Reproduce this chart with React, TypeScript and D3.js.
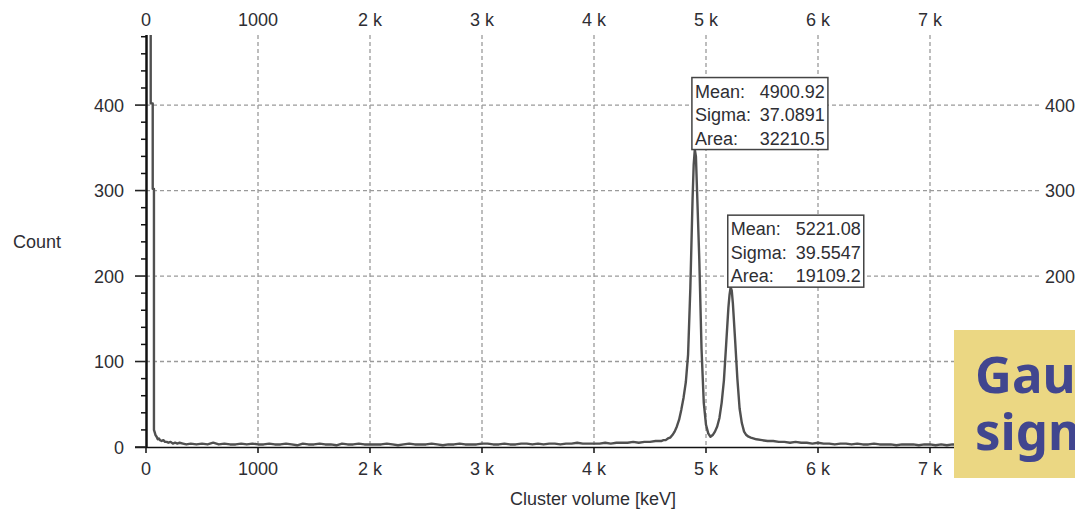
import { useEffect, useRef } from "react"
import { select, scaleLinear, line, max } from "d3"

const WIDTH = 1075
const HEIGHT = 515

// low-energy spike right above 0 and its quick decay: [keV, count]
const lowEnergy: [number, number][] = [
    [42, 600], [42, 402], [60, 402], [60, 302], [71, 302], [71, 20],
    [78, 17], [85, 14], [95, 12], [105, 9], [115, 10], [125, 8], [140, 7],
    [155, 8], [170, 6], [185, 6], [200, 5], [220, 6], [240, 4], [260, 5],
    [280, 4], [300, 5], [330, 4], [360, 3],
]

// flat background, one value every 50 keV from 400 keV up to 4400 keV
const plateauStart = 400
const plateauStep = 50
const plateauCounts = [
    4, 3, 4, 3, 5, 3, 4, 3, 3, 4, 3, 4, 3,
    3, 4, 3, 3, 4, 3, 2, 4, 3, 3, 4, 3, 3, 2, 4, 3, 3, 4, 3, 3,
    3, 3, 4, 3, 2, 3, 4, 3, 3, 3, 4, 3, 2, 3, 3, 4, 3, 3, 3, 4,
    4, 3, 3, 4, 3, 3, 4, 4, 3, 4, 3, 4, 4, 3, 4, 4, 5, 4, 4, 4,
    4, 5, 4, 5, 5, 5, 6, 5,
]

// the two peaks: [keV, count]
const peakRegion: [number, number][] = [
    [4450, 6], [4500, 6], [4550, 7], [4600, 7], [4620, 8], [4640, 8],
    [4660, 10], [4680, 11], [4700, 14], [4720, 18], [4740, 24], [4760, 32],
    [4780, 44], [4800, 58], [4820, 76], [4840, 108], [4860, 185], [4880, 290],
    [4890, 330], [4900, 348], [4910, 340], [4920, 300], [4940, 220], [4960, 115],
    [4980, 52], [5000, 26], [5020, 16], [5040, 12], [5060, 14], [5080, 18],
    [5100, 24], [5120, 34], [5140, 52], [5160, 78], [5180, 120], [5200, 163],
    [5210, 178], [5220, 187], [5230, 183], [5240, 168], [5260, 125], [5280, 80],
    [5300, 45], [5320, 28], [5340, 18], [5360, 14], [5380, 12], [5400, 11],
]

// slow tail after the peaks, one value every 50 keV from 5450 keV
const tailStart = 5450
const tailStep = 50
const tailCounts = [
    9, 8, 7, 7, 6, 6, 5, 6, 5, 5, 4, 5,
    4, 4, 3, 4, 4, 3, 4, 3, 3, 4,
    3, 3, 3, 2, 3, 3, 3, 2, 3, 3,
    2, 3, 2, 3, 3, 2, 2, 3, 2, 2,
    3, 2, 2, 2, 3, 2, 2, 2, 2, 2,
]

const xTicks = [0, 1000, 2000, 3000, 4000, 5000, 6000, 7000]
const xTickLabels = ["0", "1000", "2 k", "3 k", "4 k", "5 k", "6 k", "7 k"]
const yTicks = [0, 100, 200, 300, 400]
const yRightTicks = [200, 300, 400]
const yMinorTicks = [20, 40, 60, 80, 120, 140, 160, 180, 220, 240, 260, 280, 320, 340, 360, 380, 420, 440, 460, 480]

const fits = [
    { mean: 4900.92, sigma: "37.0891", area: "32210.5", meanText: "4900.92" },
    { mean: 5221.08, sigma: "39.5547", area: "19109.2", meanText: "5221.08" },
]

const noteLines = ["Gaussian", "sigma"]

const App = () => {
    const svgRef = useRef<SVGSVGElement>(null)

    useEffect(() => {
        const font = "Arial, 'Liberation Sans', sans-serif"
        const textColor = "#2e2e33"

        const histogram: [number, number][] = [
            ...lowEnergy,
            ...plateauCounts.map((c, i) => [plateauStart + i * plateauStep, c] as [number, number]),
            ...peakRegion,
            ...tailCounts.map((c, i) => [tailStart + i * tailStep, c] as [number, number]),
        ]

        const x = scaleLinear().domain([0, 8000]).range([146, 1042])
        const y = scaleLinear().domain([0, 482]).range([447, 35])

        const svgEl = select(svgRef.current)
        svgEl.selectAll("*").remove()

        svgEl.append("rect").attr("width", WIDTH).attr("height", HEIGHT).attr("fill", "#fff")

        svgEl.append("clipPath").attr("id", "plot-clip")
            .append("rect")
            .attr("x", x(0)).attr("y", y(482))
            .attr("width", x(8000) - x(0)).attr("height", y(0) - y(482))
        svgEl.append("clipPath").attr("id", "page-clip")
            .append("rect").attr("width", WIDTH).attr("height", HEIGHT)

        // grid
        svgEl.append("g").selectAll("line")
            .data(xTicks.slice(1))
            .enter().append("line")
            .attr("x1", d => x(d)).attr("x2", d => x(d))
            .attr("y1", y(482)).attr("y2", y(0))
            .attr("stroke", "#9a9a9a").attr("stroke-width", 1.3)
            .attr("stroke-dasharray", "4,3")
        svgEl.append("g").selectAll("line")
            .data(yTicks.slice(1))
            .enter().append("line")
            .attr("x1", x(0)).attr("x2", x(8000) - 2)
            .attr("y1", d => y(d)).attr("y2", d => y(d))
            .attr("stroke", "#9a9a9a").attr("stroke-width", 1.3)
            .attr("stroke-dasharray", "4,3")

        // histogram trace
        const trace = line<[number, number]>()
            .x(d => x(d[0]))
            .y(d => y(d[1]))
        svgEl.append("path")
            .attr("clip-path", "url(#plot-clip)")
            .attr("fill", "none")
            .attr("stroke", "#505050")
            .attr("stroke-width", 2.4)
            .attr("stroke-linejoin", "round")
            .attr("d", trace(histogram))

        // bottom axis
        svgEl.append("line")
            .attr("x1", x(0) - 11).attr("x2", x(8000))
            .attr("y1", y(0) + 0.5).attr("y2", y(0) + 0.5)
            .attr("stroke", "#111").attr("stroke-width", 1.5)
        svgEl.append("g").selectAll("line")
            .data(xTicks)
            .enter().append("line")
            .attr("x1", d => x(d)).attr("x2", d => x(d))
            .attr("y1", y(0)).attr("y2", y(0) + 6)
            .attr("stroke", "#111").attr("stroke-width", 1.5)

        // left axis
        svgEl.append("line")
            .attr("x1", x(0) + 0.5).attr("x2", x(0) + 0.5)
            .attr("y1", y(482)).attr("y2", y(0) + 1)
            .attr("stroke", "#111").attr("stroke-width", 2.5)
        svgEl.append("g").selectAll("line")
            .data(yMinorTicks)
            .enter().append("line")
            .attr("x1", x(0) - 5).attr("x2", x(0))
            .attr("y1", d => y(d)).attr("y2", d => y(d))
            .attr("stroke", "#111").attr("stroke-width", 1.5)
        svgEl.append("g").selectAll("line")
            .data(yTicks)
            .enter().append("line")
            .attr("x1", x(0) - 11).attr("x2", x(0))
            .attr("y1", d => y(d)).attr("y2", d => y(d))
            .attr("stroke", "#222").attr("stroke-width", 1.6)

        // tick labels
        const label = (g: any) => g
            .attr("font-family", font).attr("font-size", 18).attr("fill", textColor)
        svgEl.append("g").call(label).attr("text-anchor", "middle")
            .selectAll("text").data(xTicks).enter().append("text")
            .attr("x", d => x(d)).attr("y", 26)
            .text((_, i) => xTickLabels[i])
        svgEl.append("g").call(label).attr("text-anchor", "middle")
            .selectAll("text").data(xTicks).enter().append("text")
            .attr("x", d => x(d)).attr("y", 475)
            .text((_, i) => xTickLabels[i])
        svgEl.append("g").call(label).attr("text-anchor", "end")
            .selectAll("text").data(yTicks).enter().append("text")
            .attr("x", 124).attr("y", d => y(d) + 6.5)
            .text(d => String(d))
        svgEl.append("g").call(label).attr("text-anchor", "start")
            .selectAll("text").data(yRightTicks).enter().append("text")
            .attr("x", 1045).attr("y", d => y(d) + 6.5)
            .text(d => String(d))

        // axis titles
        svgEl.append("text").call(label)
            .attr("x", 13).attr("y", 248).text("Count")
        svgEl.append("text").call(label)
            .attr("text-anchor", "middle")
            .attr("x", 593).attr("y", 505).text("Cluster volume [keV]")

        // fit result boxes, sitting on top of each peak
        fits.forEach(f => {
            const top = max(histogram.filter(d => Math.abs(d[0] - f.mean) < 30), d => d[1]) ?? 0
            const bw = 136
            const bh = 72
            const bx = x(f.mean) - 3
            const by = y(top) - bh
            const g = svgEl.append("g")
            g.append("rect")
                .attr("x", bx).attr("y", by).attr("width", bw).attr("height", bh)
                .attr("fill", "#fff").attr("stroke", "#444").attr("stroke-width", 1.5)
            const rows = [["Mean:", f.meanText], ["Sigma:", f.sigma], ["Area:", f.area]]
            rows.forEach((r, i) => {
                g.append("text").call(label)
                    .attr("x", bx + 3).attr("y", by + 20 + i * 23.5).text(r[0])
                g.append("text").call(label)
                    .attr("text-anchor", "end")
                    .attr("x", bx + bw - 3).attr("y", by + 20 + i * 23.5).text(r[1])
            })
        })

        // yellow note at the right edge, cut off by the page like in the slide
        const note = svgEl.append("g").attr("clip-path", "url(#page-clip)")
        note.append("rect")
            .attr("x", 954).attr("y", 330).attr("width", 140).attr("height", 148)
            .attr("fill", "#ebd783")
        note.append("g")
            .attr("font-family", "'Noto Sans', sans-serif").attr("font-weight", "bold")
            .attr("font-size", 51).attr("fill", "#41468f")
            .selectAll("text").data(noteLines).enter().append("text")
            .attr("x", 975).attr("y", (_, i) => 393 + i * 57)
            .text(d => d)
    }, [])

    return (
        <svg
            ref={svgRef}
            width={WIDTH}
            height={HEIGHT}
            style={{ position: "absolute", left: 0, top: 0 }}
        />
    )
}

export default App
